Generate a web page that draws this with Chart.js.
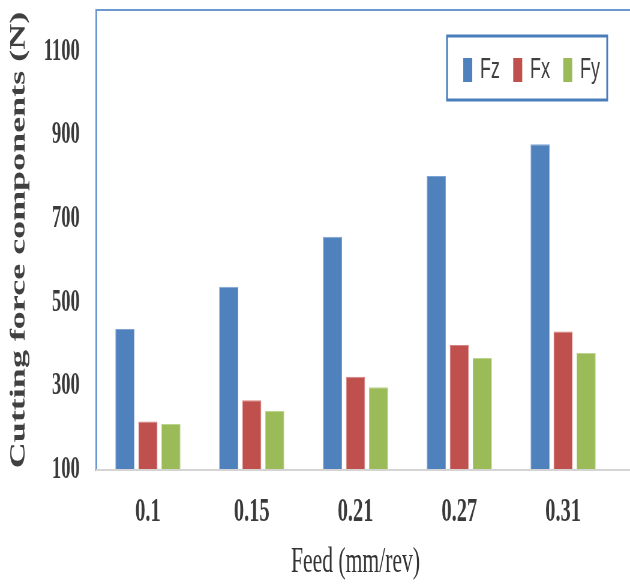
<!DOCTYPE html>
<html lang="en">
<head>
  <meta charset="UTF-8">
  <title>Cutting force components vs feed</title>
  <script src="https://cdn.jsdelivr.net/npm/chart.js"></script>
  <style>
    html, body { margin: 0; padding: 0; background: #fff; overflow: hidden; }
    /* the source figure is squeezed sideways, so draw wide and squeeze the same way */
    #wrap { width: 1050px; height: 585px; transform: scaleX(0.6); transform-origin: 0 0; }
  </style>
</head>
<body>
  <div id="wrap"><canvas id="forceChart" width="1050" height="585"></canvas></div>

  <script>
    const feeds = ['0.1', '0.15', '0.21', '0.27', '0.31'];
    const fzValues = [437, 538, 658, 803, 879];
    const fxValues = [216, 267, 323, 399, 431];
    const fyValues = [210, 241, 298, 368, 380];
    const yTicks = [100, 300, 500, 700, 900, 1100];

    const serif = '"Liberation Serif", "Times New Roman", serif';

    // frame lines (top + bottom run out to the edge) and the boxed legend inside the plot
    const framePlugin = {
      id: 'frame',
      afterDraw(chart) {
        const ctx = chart.ctx;
        const area = chart.chartArea;
        ctx.save();
        ctx.lineWidth = 2;
        ctx.strokeStyle = '#6c98d0';
        ctx.beginPath();
        ctx.moveTo(area.left, area.top);
        ctx.lineTo(chart.width, area.top);
        ctx.stroke();
        ctx.strokeStyle = '#d4d4d4';
        ctx.beginPath();
        ctx.moveTo(area.left, area.bottom);
        ctx.lineTo(chart.width, area.bottom);
        ctx.stroke();

        // legend
        ctx.font = '30px "Liberation Sans", Arial, sans-serif';
        ctx.textBaseline = 'middle';
        const items = chart.data.datasets;
        let width = 27 + 12;
        items.forEach((ds, i) => {
          width += 15 + 13 + ctx.measureText(ds.label).width;
          if (i > 0) width += 22;
        });
        const boxRight = area.right - 13;
        const boxLeft = boxRight - width;
        const boxTop = area.top + 26;
        const boxHeight = 64;
        ctx.lineWidth = 3;
        ctx.strokeStyle = '#4a7ebb';
        ctx.strokeRect(boxLeft, boxTop, width, boxHeight);
        let x = boxLeft + 27;
        const cy = boxTop + boxHeight / 2 + 2;
        items.forEach(ds => {
          ctx.fillStyle = ds.backgroundColor;
          ctx.fillRect(x, cy - 12, 15, 24);
          x += 15 + 13;
          ctx.fillStyle = '#404040';
          ctx.fillText(ds.label, x, cy);
          x += ctx.measureText(ds.label).width + 22;
        });
        ctx.restore();
      }
    };

    new Chart(document.getElementById('forceChart'), {
      type: 'bar',
      data: {
        labels: feeds,
        datasets: [
          { label: 'Fz', data: fzValues, backgroundColor: '#4f81bd', borderColor: '#7ea3d3', borderWidth: 1 },
          { label: 'Fx', data: fxValues, backgroundColor: '#c0504d', borderColor: '#d6837f', borderWidth: 1 },
          { label: 'Fy', data: fyValues, backgroundColor: '#9bbb59', borderColor: '#bcd38b', borderWidth: 1 }
        ]
      },
      options: {
        responsive: false,
        animation: false,
        layout: { padding: { top: 10, right: 25, bottom: 0, left: 0 } },
        datasets: {
          bar: { categoryPercentage: 0.665, barPercentage: 0.83 }
        },
        plugins: {
          legend: { display: false },
          tooltip: { enabled: false }
        },
        scales: {
          x: {
            grid: { display: false, drawTicks: false },
            border: { display: false },
            ticks: {
              padding: 22,
              color: '#3a3a3a',
              font: { family: serif, size: 34, weight: 'bold' }
            },
            title: {
              display: true,
              text: 'Feed (mm/rev)',
              color: '#333',
              padding: { top: 0, bottom: 1 },
              font: { family: serif, size: 36 }
            },
            afterFit(scale) {
              scale.height = 115;
              scale.paddingLeft = 0;
              scale.paddingRight = 0;
            }
          },
          y: {
            min: 100,
            max: 1200,
            grid: { display: false, drawTicks: false },
            border: { display: true, color: '#6c98d0', width: 3 },
            afterBuildTicks(axis) { axis.ticks = yTicks.map(v => ({ value: v })); },
            ticks: {
              padding: 27,
              color: '#3a3a3a',
              font: { family: serif, size: 31, weight: 'bold' },
              callback: value => String(value)
            },
            title: {
              display: true,
              text: 'Cutting force components (N)',
              color: '#404040',
              padding: { top: 10, bottom: 0 },
              font: { family: serif, size: 36, weight: 'bold' }
            },
            afterFit(scale) {
              scale.width = 160;
              scale.paddingTop = 0;
              scale.paddingBottom = 0;
            }
          }
        }
      },
      plugins: [framePlugin]
    });
  </script>
</body>
</html>
